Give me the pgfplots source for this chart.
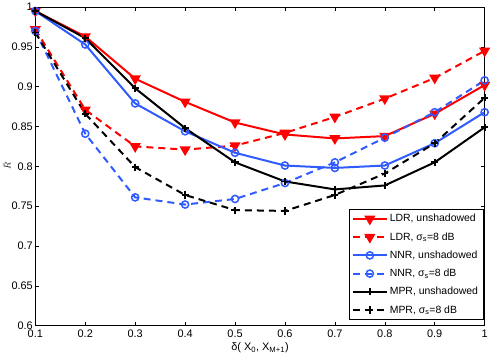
\documentclass[border=0pt]{standalone}
\usepackage{fontspec}
\setmainfont{Liberation Sans}
\usepackage{pgfplots}
\pgfplotsset{compat=1.18}
\definecolor{mred}{HTML}{FF0000}
\definecolor{mblue}{HTML}{2F5BFF}
\begin{document}
\begin{tikzpicture}
\begin{axis}[
  scale only axis,
  width=450bp, height=319bp,
  xmin=0.1, xmax=1, ymin=0.6, ymax=1,
  xtick={0.1,0.2,...,1.0}, ytick={0.6,0.65,...,1.0},
  xticklabels={0.1,0.2,0.3,0.4,0.5,0.6,0.7,0.8,0.9,1},
  yticklabels={0.6,0.65,0.7,0.75,0.8,0.85,0.9,0.95,1},
  tick align=inside, major tick length=4bp,
  tick style={black, line width=0.5pt},
  axis line style={line width=0.7pt},
  ticklabel style={font=\fontsize{11}{13}\selectfont},
  xticklabel style={yshift=-1bp},
  yticklabel style={xshift=1bp},
  xlabel={δ( X\textsubscript{0}, X\textsubscript{M+1})},
  xlabel style={font=\fontsize{11}{13}\selectfont, yshift=2bp},
  ylabel={$\bar{R}$},
  ylabel style={font=\fontsize{9}{11}\selectfont, yshift=-6bp},
  legend cell align=left,
  legend style={at={(0.997,0.018)}, anchor=south east,
    font=\fontsize{10.5}{12.5}\selectfont, draw=black, line width=0.5pt,
    row sep=5.2bp, inner xsep=3bp, inner ysep=3bp},
  legend image code/.code={\draw[mark repeat=2,mark phase=2]
    plot coordinates {(0bp,0bp) (17bp,0bp) (34bp,0bp)};},
]
\addplot[mred, line width=2bp, mark=triangle*, mark size=4.5bp, mark options={rotate=180, solid}]
  coordinates {(0.1,0.995) (0.2,0.963) (0.3,0.910) (0.4,0.881) (0.5,0.855)
  (0.6,0.840) (0.7,0.835) (0.8,0.838) (0.9,0.866) (1.0,0.902)};
\addlegendentry{LDR, unshadowed}
\addplot[mred, line width=2bp, dash pattern=on 7bp off 5bp, mark=triangle*, mark size=4.5bp, mark options={rotate=180, solid}]
  coordinates {(0.1,0.972) (0.2,0.871) (0.3,0.825) (0.4,0.821) (0.5,0.826)
  (0.6,0.842) (0.7,0.862) (0.8,0.885) (0.9,0.911) (1.0,0.945)};
\addlegendentry{LDR, σ\textsubscript{s}=8 dB}
\addplot[mblue, line width=2bp, mark=o, mark size=3.6bp, mark options={solid, line width=1.5bp}]
  coordinates {(0.1,0.995) (0.2,0.953) (0.3,0.879) (0.4,0.844) (0.5,0.817)
  (0.6,0.801) (0.7,0.798) (0.8,0.801) (0.9,0.829) (1.0,0.868)};
\addlegendentry{NNR, unshadowed}
\addplot[mblue, line width=2bp, dash pattern=on 7bp off 5bp, mark=o, mark size=3.6bp, mark options={solid, line width=1.5bp}]
  coordinates {(0.1,0.970) (0.2,0.841) (0.3,0.761) (0.4,0.752) (0.5,0.759)
  (0.6,0.779) (0.7,0.805) (0.8,0.836) (0.9,0.868) (1.0,0.908)};
\addlegendentry{NNR, σ\textsubscript{s}=8 dB}
\addplot[black, line width=2bp, mark=+, mark size=3.6bp, mark options={solid, line width=1.8bp}]
  coordinates {(0.1,0.995) (0.2,0.961) (0.3,0.898) (0.4,0.848) (0.5,0.805)
  (0.6,0.781) (0.7,0.771) (0.8,0.776) (0.9,0.805) (1.0,0.849)};
\addlegendentry{MPR, unshadowed}
\addplot[black, line width=2bp, dash pattern=on 7bp off 5bp, mark=+, mark size=3.6bp, mark options={solid, line width=1.8bp}]
  coordinates {(0.1,0.968) (0.2,0.866) (0.3,0.799) (0.4,0.764) (0.5,0.745)
  (0.6,0.744) (0.7,0.764) (0.8,0.791) (0.9,0.829) (1.0,0.886)};
\addlegendentry{MPR, σ\textsubscript{s}=8 dB}
\end{axis}
\end{tikzpicture}
\end{document}
